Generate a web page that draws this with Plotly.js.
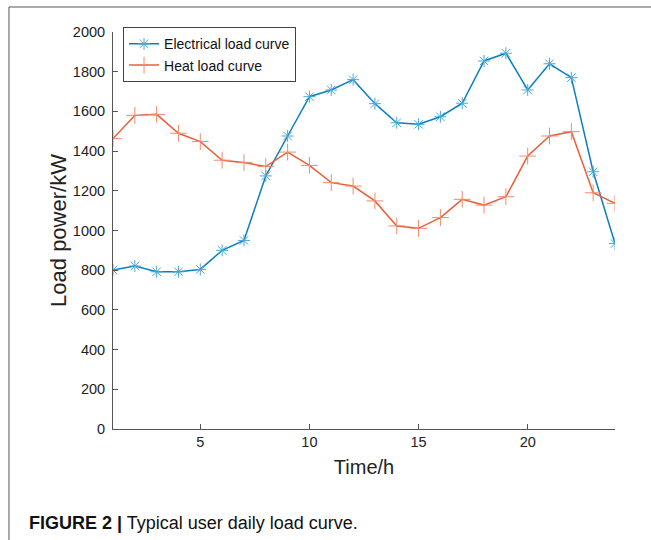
<!DOCTYPE html>
<html>
<head>
<meta charset="utf-8">
<script src="https://cdn.plot.ly/plotly-3.0.1.min.js"></script>
<style>html,body{margin:0;padding:0;background:#fff;}</style>
</head>
<body>
<div id="chart" style="width:651px;height:540px;"></div>
<script>
const hours = [1,2,3,4,5,6,7,8,9,10,11,12,13,14,15,16,17,18,19,20,21,22,23,24];
const electricalLoad = [801,821,792,792,804,900,950,1275,1476,1674,1708,1760,1639,1543,1535,1573,1641,1854,1893,1708,1840,1770,1296,934];
const heatLoad = [1463,1580,1585,1490,1448,1354,1342,1322,1395,1328,1241,1224,1149,1023,1011,1065,1157,1128,1170,1375,1476,1498,1190,1137];
const xTicks = [5,10,15,20];
const yTicks = [0,200,400,600,800,1000,1200,1400,1600,1800,2000];

const font = "Liberation Sans, Arial, sans-serif";
const traces = [
  {x: hours, y: electricalLoad, name: 'Electrical load curve', type: 'scatter', mode: 'lines+markers',
   line: {color: '#0a7fc0', width: 1.5},
   marker: {symbol: 'asterisk-open', size: 10, color: '#4aa8d8', line: {color: '#4aa8d8', width: 1}}},
  {x: hours, y: heatLoad, name: 'Heat load curve', type: 'scatter', mode: 'lines+markers',
   line: {color: '#e8603a', width: 1.5},
   marker: {symbol: 'cross-thin-open', size: 12, color: '#f08a6a', line: {color: '#f08a6a', width: 1}}}
];

const layout = {
  width: 651, height: 540,
  margin: {l: 113, r: 36, t: 32, b: 111},
  paper_bgcolor: '#fff', plot_bgcolor: '#fff',
  font: {family: font, color: '#222'},
  showlegend: true,
  legend: {x: 0.02, y: 1.012, xanchor: 'left', yanchor: 'top', bgcolor: '#fff',
           bordercolor: '#444', borderwidth: 1, font: {size: 14, family: font, color: '#111'},
           tracegroupgap: 0, itemwidth: 30},
  xaxis: {range: [1, 24], tickvals: xTicks, ticktext: xTicks.map(String),
          ticks: 'inside', ticklen: 5, tickcolor: '#555', showline: true, linecolor: '#555', linewidth: 1,
          showgrid: false, zeroline: false, tickfont: {size: 14.5, color: '#222'},
          title: {text: 'Time/h', font: {size: 20, color: '#222'}, standoff: 10}},
  yaxis: {range: [0, 2000], tickvals: yTicks, ticktext: yTicks.map(String),
          ticks: 'inside', ticklen: 5, tickcolor: '#555', showline: true, linecolor: '#555', linewidth: 1,
          ticklabelstandoff: 4,
          showgrid: false, zeroline: false, tickfont: {size: 14.5, color: '#222'},
          title: {text: 'Load power/kW', font: {size: 22, color: '#222'}, standoff: 0}},
  shapes: [
    {type: 'line', xref: 'paper', yref: 'paper', x0: -0.2072, x1: 1.08, y0: 1.063, y1: 1.063, line: {color: '#555', width: 1}},
    {type: 'line', xref: 'paper', yref: 'paper', x0: -0.2072, x1: -0.2072, y0: -0.30, y1: 1.063, line: {color: '#555', width: 1}}
  ],
  annotations: [
    {xref: 'paper', yref: 'paper', x: -0.1713, y: -0.2368, xanchor: 'left', yanchor: 'middle', showarrow: false,
     text: '<b>FIGURE 2 |</b> Typical user daily load curve.',
     font: {family: 'Liberation Sans Narrow, Liberation Sans, Arial, sans-serif', size: 18, color: '#111'}}
  ]
};

Plotly.newPlot('chart', traces, layout, {displayModeBar: false, staticPlot: true});
</script>
</body>
</html>
